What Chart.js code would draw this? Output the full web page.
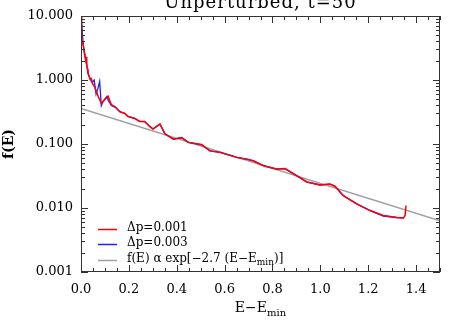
<!DOCTYPE html>
<html>
<head>
<meta charset="utf-8">
<script src="https://cdn.jsdelivr.net/npm/chart.js@4"></script>
<style>
  html, body { margin: 0; padding: 0; background: #fff; }
  #wrap { width: 463px; height: 331px; }
</style>
</head>
<body>
<div id="wrap"><canvas id="ChartCanvas" width="463" height="331"></canvas></div>
<script>
// values
const titleText = 'Unperturbed, t=50'

// dp = 0.001 (red)
const redE = [0, 0.003, 0.010, 0.014, 0.017, 0.020, 0.022, 0.024, 0.027, 0.029, 0.033, 0.038, 0.043, 0.050, 0.057, 0.064, 0.075, 0.085, 0.099, 0.113, 0.127, 0.141, 0.162, 0.183, 0.196, 0.224, 0.245, 0.266, 0.287, 0.301, 0.315, 0.330, 0.351, 0.386, 0.421, 0.448, 0.504, 0.539, 0.581, 0.651, 0.692, 0.720, 0.762, 0.818, 0.852, 0.901, 0.943, 0.999, 1.040, 1.061, 1.096, 1.152, 1.208, 1.263, 1.319, 1.347, 1.354, 1.358]
const redF = [9.8, 4.3, 3.4, 2.6, 2.26, 2.0, 2.3, 1.65, 1.5, 1.27, 1.15, 1.03, 1.05, 0.85, 0.78, 0.66, 0.52, 0.43, 0.49, 0.56, 0.41, 0.385, 0.32, 0.30, 0.27, 0.253, 0.225, 0.225, 0.188, 0.171, 0.188, 0.204, 0.143, 0.119, 0.126, 0.106, 0.098, 0.078, 0.074, 0.0618, 0.058, 0.0547, 0.0457, 0.0407, 0.0414, 0.032, 0.0255, 0.0229, 0.0237, 0.0219, 0.0156, 0.0116, 0.00912, 0.00762, 0.00709, 0.0070, 0.0076, 0.0109]

// dp = 0.003 (blue), mostly hidden under the red curve
const blueE = [0, 0.010, 0.020, 0.030, 0.040, 0.046, 0.055, 0.063, 0.070, 0.078, 0.085, 0.092, 0.099, 0.108, 0.115, 0.127, 0.145, 0.162, 0.183, 0.196, 0.224, 0.245, 0.266, 0.287, 0.301, 0.315, 0.330, 0.351, 0.386, 0.421, 0.448, 0.504, 0.539, 0.581, 0.651, 0.692, 0.720, 0.762, 0.818, 0.852, 0.901, 0.943, 0.999, 1.040, 1.061, 1.096, 1.152, 1.208, 1.263, 1.319, 1.347]
const blueF = [9.6, 3.4, 2.1, 1.28, 1.0, 0.92, 1.0, 0.60, 0.72, 0.95, 0.40, 0.46, 0.50, 0.55, 0.47, 0.40, 0.37, 0.32, 0.30, 0.27, 0.25, 0.226, 0.224, 0.19, 0.172, 0.186, 0.203, 0.144, 0.119, 0.125, 0.106, 0.097, 0.078, 0.074, 0.062, 0.058, 0.0545, 0.0458, 0.0406, 0.0412, 0.032, 0.0256, 0.0229, 0.0236, 0.0219, 0.0157, 0.0116, 0.0091, 0.0075, 0.0071, 0.0070]

// fit line f(E) ~ exp[-2.7 (E-Emin)], end points
const fitE = [0, 1.5]
const fitF = [0.36, 0.0063]

const xTicks = [0, 0.2, 0.4, 0.6, 0.8, 1.0, 1.2, 1.4]
const yTicks = [0.001, 0.01, 0.1, 1, 10]
const yTickLabels = ['0.001', '0.010', '0.100', '1.000', '10.000']

const legendLabels = ['\u0394p=0.001', '\u0394p=0.003', 'f(E) \u03b1 exp[\u22122.7 (E\u2212E']
const colors = ['#ff0000', '#1f1fff', '#a0a0a0']

const FONT = '"DejaVu Serif", "Liberation Serif", serif'

function pts(xs, ys) {
    return xs.map((x, i) => ({x: x, y: ys[i]}))
}

// inward tick marks + frame, IDL style
const frameTicks = {
    id: 'frameTicks',
    afterDatasetsDraw(chart) {
        const ctx = chart.ctx
        const a = chart.chartArea
        const xs = chart.scales.x
        const ys = chart.scales.y
        ctx.save()
        ctx.strokeStyle = '#333'
        ctx.lineWidth = 1
        ctx.strokeRect(a.left + 0.5, a.top + 0.5, a.right - a.left - 1, a.bottom - a.top - 1)
        ctx.beginPath()
        for (let i = 0; i <= 30; i++) {
            const v = i * 0.05
            const px = Math.round(xs.getPixelForValue(v)) + 0.5
            const len = (i % 4 === 0) ? 7 : 4
            ctx.moveTo(px, a.bottom); ctx.lineTo(px, a.bottom - len)
            ctx.moveTo(px, a.top); ctx.lineTo(px, a.top + len)
        }
        for (let d = 0.001; d < 10; d *= 10) {
            for (let m = 1; m <= 9; m++) {
                const py = Math.round(ys.getPixelForValue(m * d)) + 0.5
                const len = (m === 1) ? 7 : 4
                ctx.moveTo(a.left, py); ctx.lineTo(a.left + len, py)
                ctx.moveTo(a.right, py); ctx.lineTo(a.right - len, py)
            }
        }
        const top = Math.round(ys.getPixelForValue(10)) + 0.5
        ctx.moveTo(a.left, top); ctx.lineTo(a.left + 7, top)
        ctx.moveTo(a.right, top); ctx.lineTo(a.right - 7, top)
        ctx.stroke()
        ctx.restore()
    },
    afterDraw(chart) {
        const ctx = chart.ctx
        const a = chart.chartArea
        const cx = (a.left + a.right) / 2
        ctx.save()
        ctx.fillStyle = '#000'
        // title
        ctx.font = '18px ' + FONT
        ctx.letterSpacing = '1px'
        ctx.textAlign = 'center'
        ctx.textBaseline = 'alphabetic'
        ctx.fillText(titleText, cx, 8)
        ctx.letterSpacing = '0px'
        // x title with subscript
        ctx.font = '14px ' + FONT
        const main = 'E\u2212E'
        const w1 = ctx.measureText(main).width
        ctx.font = '10px ' + FONT
        const w2 = ctx.measureText('min').width
        let sx = cx - (w1 + w2) / 2
        ctx.textAlign = 'left'
        ctx.font = '14px ' + FONT
        ctx.fillText(main, sx, 312)
        ctx.font = '10px ' + FONT
        ctx.fillText('min', sx + w1, 316)
        // y title
        ctx.save()
        ctx.translate(13, (a.top + a.bottom) / 2)
        ctx.rotate(-Math.PI / 2)
        ctx.textAlign = 'center'
        ctx.font = 'bold 14px ' + FONT
        ctx.fillText('f(E)', 0, 0)
        ctx.restore()
        // legend
        const rows = [229, 244, 260]
        for (let i = 0; i < 3; i++) {
            ctx.strokeStyle = colors[i]
            ctx.lineWidth = 1.5
            ctx.beginPath()
            ctx.moveTo(98, rows[i] + 0.5)
            ctx.lineTo(117, rows[i] + 0.5)
            ctx.stroke()
            ctx.font = '12px ' + FONT
            ctx.textAlign = 'left'
            ctx.fillText(legendLabels[i], 127, rows[i] + 2)
            if (i === 2) {
                let tx = 127 + ctx.measureText(legendLabels[i]).width
                ctx.font = '9px ' + FONT
                ctx.fillText('min', tx, rows[i] + 5)
                tx += ctx.measureText('min').width
                ctx.font = '12px ' + FONT
                ctx.fillText(')]', tx, rows[i] + 2)
            }
        }
        ctx.restore()
    }
}

function initChart() {
    const ctx = document.getElementById('ChartCanvas').getContext('2d')
    chart = new Chart(ctx, {
        type: 'line',
        data: {
            datasets: [
                {label: legendLabels[0], data: pts(redE, redF), borderColor: colors[0], borderWidth: 1.5},
                {label: legendLabels[1], data: pts(blueE, blueF), borderColor: colors[1], borderWidth: 1.3},
                {label: legendLabels[2], data: pts(fitE, fitF), borderColor: colors[2], borderWidth: 1.5}
            ]
        },
        options: {
            responsive: false,
            animation: false,
            elements: {point: {radius: 0}, line: {tension: 0}},
            layout: {padding: {left: 0, top: 16, right: 23, bottom: 0}},
            scales: {
                x: {
                    type: 'linear',
                    min: 0, max: 1.5,
                    grid: {display: false, drawTicks: false},
                    border: {display: false},
                    afterBuildTicks: s => { s.ticks = xTicks.map(v => ({value: v})) },
                    afterFit: s => { s.height = 59 },
                    ticks: {
                        padding: 10,
                        color: '#000',
                        font: {family: FONT, size: 13},
                        callback: v => Number(v).toFixed(1)
                    }
                },
                y: {
                    type: 'logarithmic',
                    min: 0.001, max: 10,
                    grid: {display: false, drawTicks: false},
                    border: {display: false},
                    afterBuildTicks: s => { s.ticks = yTicks.map(v => ({value: v})) },
                    afterFit: s => { s.width = 81 },
                    ticks: {
                        padding: 8,
                        color: '#000',
                        font: {family: FONT, size: 13},
                        callback: (v, i) => yTickLabels[i]
                    }
                }
            },
            plugins: {
                legend: {display: false},
                title: {display: false},
                tooltip: {enabled: false}
            }
        },
        plugins: [frameTicks]
    })
}

let chart = null
initChart()
</script>
</body>
</html>
